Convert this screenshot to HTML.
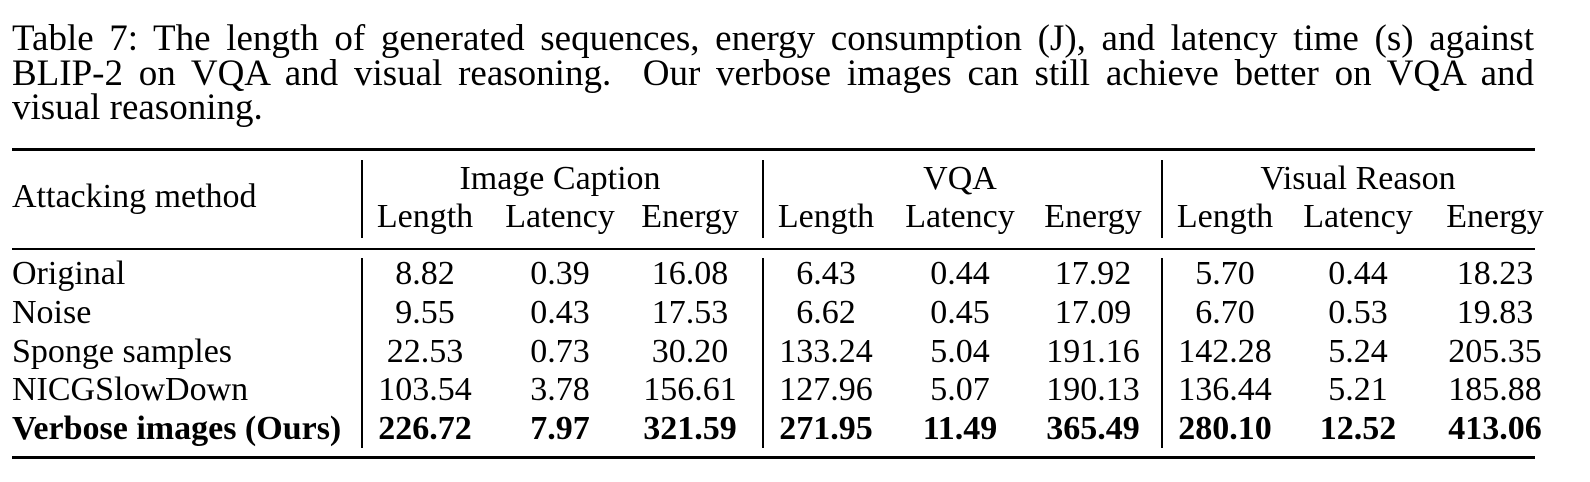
<!DOCTYPE html>
<html><head><style>
body{margin:0;width:1590px;height:482px;background:#fff;font-family:"Liberation Serif",serif;color:#000;position:relative;overflow:hidden}
.t{position:absolute;font-size:34px;line-height:1;white-space:nowrap}
.c{position:absolute;font-size:34px;line-height:1;white-space:nowrap;transform:translateX(-50%)}
.b{font-weight:bold}
.hr{position:absolute;left:12px;width:1523px;background:#000}
.vr{position:absolute;width:1.5px;background:#000}
.cl{position:absolute;left:12px;width:1522px;font-size:37px;line-height:1;white-space:nowrap}
.j{text-align:justify;text-align-last:justify;white-space:normal}
</style></head><body>
<div class="cl j" style="top:20px">Table 7: The length of generated sequences, energy consumption (J), and latency time (s) against</div>
<div class="cl j" style="top:55px">BLIP-2 on VQA and visual reasoning. &nbsp;Our verbose images can still achieve better on VQA and</div>
<div class="cl" style="top:89px">visual reasoning.</div>
<div class="hr" style="top:148px;height:3px"></div>
<div class="hr" style="top:248px;height:2px"></div>
<div class="hr" style="top:456px;height:3px"></div>
<div class="vr" style="left:361px;top:160px;height:78px"></div>
<div class="vr" style="left:762px;top:160px;height:78px"></div>
<div class="vr" style="left:1161px;top:160px;height:78px"></div>
<div class="vr" style="left:361px;top:258px;height:190px"></div>
<div class="vr" style="left:762px;top:258px;height:190px"></div>
<div class="vr" style="left:1161px;top:258px;height:190px"></div>
<div class="t" style="left:12px;top:180px">Attacking method</div>
<div class="c" style="left:560px;top:162px">Image Caption</div>
<div class="c" style="left:960px;top:162px">VQA</div>
<div class="c" style="left:1358px;top:162px">Visual Reason</div>
<div id="rows"></div>
<script>
var xs=[425,560,690,826,960,1093,1225,1358,1495];
var H=["Length","Latency","Energy","Length","Latency","Energy","Length","Latency","Energy"];
var R=[["Original","8.82","0.39","16.08","6.43","0.44","17.92","5.70","0.44","18.23"],
["Noise","9.55","0.43","17.53","6.62","0.45","17.09","6.70","0.53","19.83"],
["Sponge samples","22.53","0.73","30.20","133.24","5.04","191.16","142.28","5.24","205.35"],
["NICGSlowDown","103.54","3.78","156.61","127.96","5.07","190.13","136.44","5.21","185.88"],
["Verbose images (Ours)","226.72","7.97","321.59","271.95","11.49","365.49","280.10","12.52","413.06"]];
var h="";
H.forEach(function(s,i){h+='<div class="c" style="left:'+xs[i]+'px;top:200px">'+s+'</div>';});
R.forEach(function(r,j){var y=257+j*38.8;var b=j==4?" b":"";
h+='<div class="t'+b+'" style="left:12px;top:'+y+'px">'+r[0]+'</div>';
for(var i=1;i<10;i++)h+='<div class="c'+b+'" style="left:'+xs[i-1]+'px;top:'+y+'px">'+r[i]+'</div>';});
document.getElementById("rows").innerHTML=h;
</script>
</body></html>
